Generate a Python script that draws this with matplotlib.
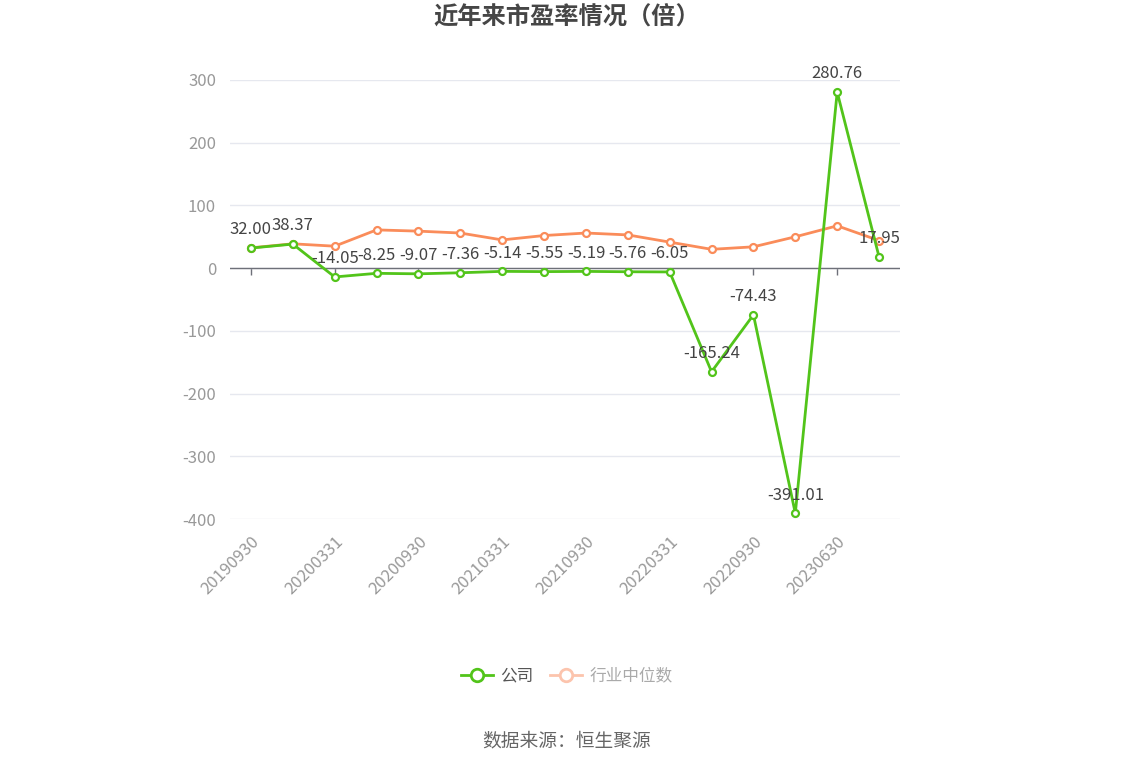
import matplotlib
matplotlib.use("Agg")
import matplotlib.pyplot as plt
from matplotlib.lines import Line2D

plt.rcParams['font.family'] = ['Noto Sans CJK SC', 'DejaVu Sans']

dates = ["20190930", "20191231", "20200331", "20200630", "20200930", "20201231",
         "20210331", "20210630", "20210930", "20211231", "20220331", "20220630",
         "20220930", "20221231", "20230630", "20230930"]
company = [32.00, 38.37, -14.05, -8.25, -9.07, -7.36, -5.14, -5.55, -5.19, -5.76,
           -6.05, -165.24, -74.43, -391.01, 280.76, 17.95]
industry = [32.4, 38.8, 35.0, 61.0, 59.0, 56.0, 45.0, 52.0, 56.0, 53.0,
            41.5, 30.0, 34.0, 50.0, 67.5, 44.0]
yticks = [-400, -300, -200, -100, 0, 100, 200, 300]

green = '#52c41a'
orange = '#fa8c5a'
ymin, ymax = -400, 300

fig = plt.figure(figsize=(11.34, 7.66), dpi=100)
ax = fig.add_axes([230/1134, 1-519/766, 670/1134, (519-80)/766])

x = list(range(len(dates)))
ax.plot(x, industry, color=orange, lw=2, marker='o', ms=5, mfc='white',
        mec=orange, mew=1.6, zorder=3)
ax.plot(x, company, color=green, lw=2, marker='o', ms=5, mfc='white',
        mec=green, mew=1.6, zorder=4)

for xi, v in zip(x, company):
    ax.annotate(f"{v:.2f}", (xi, v), xytext=(0, 7), textcoords='offset points',
                ha='center', va='bottom', fontsize=12, color='#444444', zorder=5)

ax.set_xlim(-0.5, len(dates) - 0.5)
ax.set_ylim(ymin, ymax)
ax.set_yticks(yticks)
ax.set_yticklabels([str(t) for t in yticks], fontsize=12, color='#999999')
ax.yaxis.grid(True, color='#e6e8ef', lw=1)
ax.set_axisbelow(True)
ax.tick_params(axis='y', length=0, pad=10)

ax.set_xticks(x[::2])
ax.set_xticklabels(dates[::2], fontsize=12, color='#999999')
for lbl in ax.get_xticklabels():
    lbl.set_rotation(45)
    lbl.set_ha('right')
    lbl.set_rotation_mode('anchor')
ax.tick_params(axis='x', length=0, pad=10)

for s in ['top', 'right', 'left', 'bottom']:
    ax.spines[s].set_visible(False)
ax.axhline(0, color='#6e7079', lw=1, zorder=2)

# tick marks on zero line
zero_frac = (0 - ymin) / (ymax - ymin)
sec = ax.secondary_xaxis(zero_frac)
sec.set_xticks(x[::2])
sec.set_xticklabels([])
sec.tick_params(axis='x', direction='out', length=5, color='#6e7079', width=1)
sec.spines['bottom'].set_visible(False)
sec.spines['top'].set_visible(False)
sec.xaxis.set_ticks_position('bottom')

fig.text(0.5, 1-18/766, "近年来市盈率情况（倍）", ha='center', va='center',
         fontsize=17.5, fontweight='bold', color='#464646')

h1 = Line2D([], [], color=green, lw=2, marker='o', ms=9, mfc='white', mec=green, mew=2)
h2 = Line2D([], [], color='#fcc4ad', lw=2, marker='o', ms=9, mfc='white', mec='#fcc4ad', mew=2)
leg = fig.legend([h1, h2], ["公司", "行业中位数"], loc='center',
                 bbox_to_anchor=(567/1134, 1-676/766), ncol=2, frameon=False,
                 fontsize=12, handlelength=1.9, columnspacing=1.0, handletextpad=0.45)
leg.get_texts()[0].set_color('#555555')
leg.get_texts()[1].set_color('#aaaaaa')

fig.text(0.5, 1-741/766, "数据来源：恒生聚源", ha='center', va='center',
         fontsize=13.5, color='#666666')

fig.savefig("out.png", dpi=100)
